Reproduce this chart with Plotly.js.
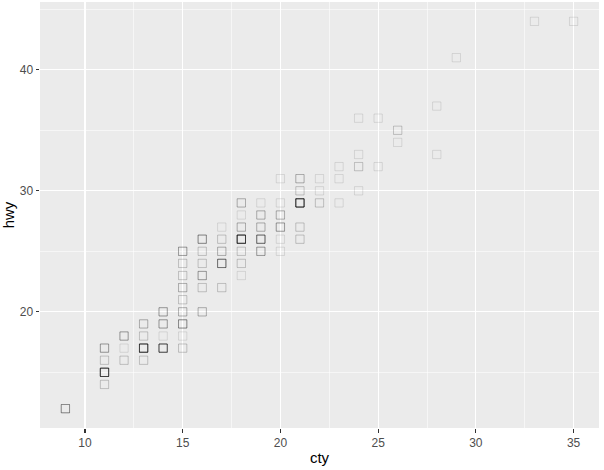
<!DOCTYPE html>
<html>
<head>
<meta charset="utf-8">
<script src="https://cdn.plot.ly/plotly-3.0.1.min.js"></script>
<style>html,body{margin:0;padding:0;background:#fff;}#chart{width:604px;height:470px;}</style>
</head>
<body>
<div id="chart"></div>
<script>
// unique (cty, hwy) pairs and how many cars share each pair
const cty   = [9, 11,11,11,11, 12,12,12, 13,13,13,13, 14,14,14,14,
               15,15,15,15,15,15,15,15,15, 16,16,16,16,16,16, 17,17,17,17,17,
               18,18,18,18,18,18,18, 19,19,19,19,19, 20,20,20,20,20,20,
               21,21,21,21,21, 22,22,22, 23,23,23, 24,24,24,24, 25,25, 26,26, 28,28, 29, 33, 35];
const hwy   = [12, 14,15,16,17, 16,17,18, 16,17,18,19, 17,18,19,20,
               17,18,19,20,21,22,23,24,25, 20,22,23,24,25,26, 22,24,25,26,27,
               23,24,25,26,27,28,29, 25,26,27,28,29, 25,26,27,28,29,31,
               26,27,29,30,31, 29,30,31, 29,31,32, 30,32,33,36, 32,36, 34,35, 33,37, 41, 44, 44];
const count = [5, 2,12,2,4, 2,1,4, 2,12,2,3, 9,1,4,4,
               2,1,5,3,2,3,2,2,4, 3,2,4,2,2,5, 2,7,3,2,1,
               1,2,2,13,3,1,3, 4,7,3,3,1, 1,1,4,3,1,1,
               2,2,13,2,3, 2,1,1, 1,1,1, 1,2,1,1, 1,1, 1,2, 1,1, 1, 1, 1];

const xs = [], ys = [];
for (let i = 0; i < cty.length; i++) {
  for (let k = 0; k < count[i]; k++) { xs.push(cty[i]); ys.push(hwy[i]); }
}

const trace = {
  type: 'scatter', mode: 'markers', x: xs, y: ys,
  marker: {symbol: 'square-open', size: 8.3, color: 'rgba(0,0,0,0.1)', line: {width: 1, color: 'rgba(0,0,0,0.1)'}},
  hoverinfo: 'x+y'
};

const axisCommon = {
  showline: false, zeroline: false,
  showgrid: true, gridcolor: '#FFFFFF', gridwidth: 1.1,
  ticks: 'outside', ticklen: 3.5, tickwidth: 1.1, tickcolor: '#333333',
  tickfont: {family: 'Liberation Sans, Arial, sans-serif', size: 12, color: '#4D4D4D'},
  automargin: false
};

const layout = {
  width: 604, height: 470,
  margin: {l: 40, r: 5, t: 2, b: 42},
  paper_bgcolor: '#FFFFFF', plot_bgcolor: '#EBEBEB',
  showlegend: false,
  xaxis: Object.assign({}, axisCommon, {
    range: [7.7, 36.3], tickmode: 'array', tickvals: [10,15,20,25,30,35],
    minor: {tickvals: [12.5,17.5,22.5,27.5,32.5], showgrid: true, gridcolor: '#FFFFFF', gridwidth: 0.55, ticklen: 0},
    title: {text: 'cty', font: {family: 'Liberation Sans, Arial, sans-serif', size: 15, color: '#000000'}, standoff: 3}
  }),
  yaxis: Object.assign({}, axisCommon, {
    range: [10.4, 45.6], tickmode: 'array', tickvals: [20,30,40],
    minor: {tickvals: [15,25,35,45], showgrid: true, gridcolor: '#FFFFFF', gridwidth: 0.55, ticklen: 0},
    title: {text: 'hwy', font: {family: 'Liberation Sans, Arial, sans-serif', size: 15, color: '#000000'}, standoff: 6}
  })
};

Plotly.newPlot('chart', [trace], layout, {displayModeBar: false, staticPlot: true});
</script>
</body>
</html>
